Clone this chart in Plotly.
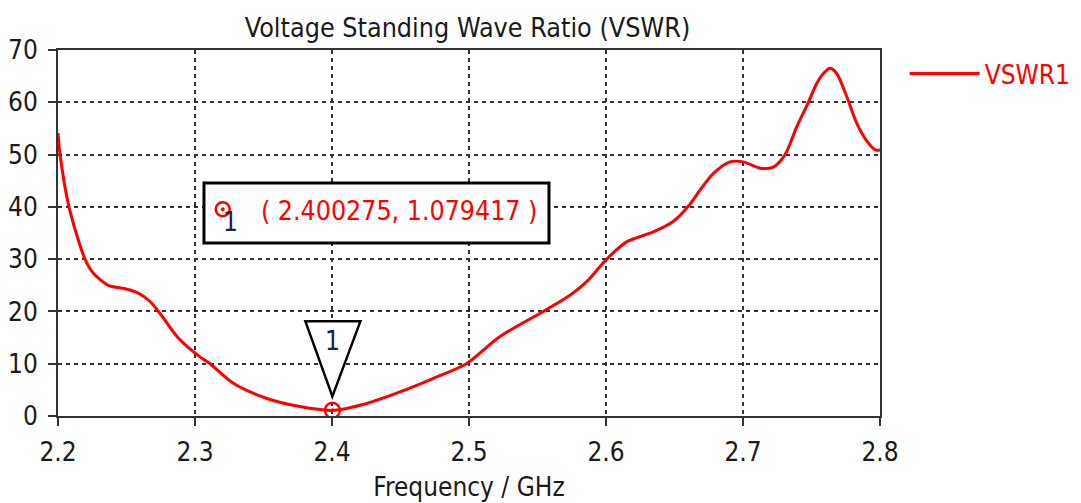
import plotly.graph_objects as go

# ---- data ----
freq_ghz = [2.200, 2.2015, 2.208, 2.2197, 2.2258, 2.2367, 2.2477, 2.2586, 2.2672, 2.2745,
            2.2878, 2.3036, 2.311, 2.328, 2.352, 2.3766, 2.400275, 2.4253, 2.4496, 2.474,
            2.498, 2.5226, 2.5542, 2.5737, 2.5859, 2.6005, 2.615, 2.6345, 2.649, 2.6613,
            2.6686, 2.6784, 2.6905, 2.7002, 2.7124, 2.722, 2.7307, 2.7392, 2.7477, 2.7538,
            2.7590, 2.7635, 2.7684, 2.7757, 2.783, 2.7903, 2.7965, 2.800]
vswr = [54.1, 50.0, 40.0, 30.0, 27.3, 25.0, 24.4, 23.5, 21.9, 19.6,
        14.9, 11.3, 10.0, 6.25, 3.4, 1.8, 1.079417, 2.4, 4.6, 7.2,
        10.0, 15.2, 20.0, 23.1, 25.7, 30.0, 33.3, 35.2, 37.2, 40.5,
        43.2, 46.4, 48.6, 48.6, 47.4, 47.6, 50.0, 55.3, 60.0, 63.6,
        65.6, 66.5, 65.5, 61.1, 56.0, 52.6, 50.9, 50.9]
marker_x = [2.400275]
marker_y = [1.079417]
marker_label = "( 2.400275, 1.079417 )"
x_ticks = [2.2, 2.3, 2.4, 2.5, 2.6, 2.7, 2.8]
y_ticks = [0, 10, 20, 30, 40, 50, 60, 70]

FONT = "DejaVu Sans Condensed, DejaVu Sans"
AX = "#333333"
TXT = "#1a1a1a"

fig = go.Figure()
fig.add_trace(go.Scatter(x=freq_ghz, y=vswr, mode="lines", name="VSWR1",
                         line=dict(color="#ff0000", width=3, shape="spline", smoothing=0.8)))
fig.add_trace(go.Scatter(x=marker_x, y=marker_y, mode="markers", showlegend=False,
                         marker=dict(symbol="circle-open-dot", size=15, color="#ff0000",
                                     line=dict(width=2.5, color="#ff0000"))))

axis_common = dict(showline=True, mirror=True, linecolor=AX, linewidth=2,
                   showgrid=True, gridcolor=AX, gridwidth=2, griddash="4px,4px",
                   ticks="outside", ticklen=8, tickwidth=2, tickcolor=AX,
                   zeroline=False, automargin=False,
                   tickfont=dict(family=FONT, size=26, color=TXT))

fig.update_layout(
    width=1081, height=503,
    margin=dict(l=58, r=201, t=50, b=87, autoexpand=False),
    paper_bgcolor="white", plot_bgcolor="white",
    title=dict(text="Voltage Standing Wave Ratio (VSWR)", x=0.4325, xanchor="center",
               y=0.946, yanchor="middle", yref="container",
               font=dict(family=FONT, size=26.7, color=TXT)),
    xaxis=dict(range=[2.2, 2.8], tickvals=x_ticks, ticktext=[f"{v:.1f}" for v in x_ticks],
               ticklabelstandoff=4,
               title=dict(text="Frequency / GHz", font=dict(family=FONT, size=26, color=TXT),
                          standoff=12),
               **axis_common),
    yaxis=dict(range=[0, 70], tickvals=y_ticks, ticklabelstandoff=5, **axis_common),
    legend=dict(x=1.03, y=1.0, xanchor="left", yanchor="top", itemwidth=70,
                font=dict(family=FONT, size=26, color="#ff0000"), bgcolor="rgba(0,0,0,0)"),
    showlegend=True,
)

# marker info box
fig.add_shape(type="rect", xref="paper", yref="paper", x0=0.1776, x1=0.5973, y0=0.4727, y1=0.6366,
              line=dict(color="black", width=3), fillcolor="white", layer="above")
fig.add_shape(type="circle", xref="paper", yref="paper", xsizemode="pixel", ysizemode="pixel",
              xanchor=0.2004, yanchor=0.5648, x0=-7, x1=7, y0=-7, y1=7,
              line=dict(color="#ff0000", width=2.5), layer="above")
fig.add_shape(type="circle", xref="paper", yref="paper", xsizemode="pixel", ysizemode="pixel",
              xanchor=0.2004, yanchor=0.5648, x0=-1.6, x1=1.6, y0=-1.6, y1=1.6,
              line=dict(color="#ff0000", width=1), fillcolor="#ff0000", layer="above")
fig.add_annotation(xref="paper", yref="paper", x=0.1985, y=0.5300, text="1", showarrow=False,
                   font=dict(family=FONT, size=26, color="#202040"))
fig.add_annotation(xref="paper", yref="paper", x=0.4148, y=0.5628, text=marker_label,
                   showarrow=False, font=dict(family=FONT, size=26.5, color="#ff0000"))

# triangle pointer above the marker
fig.add_shape(type="path", xref="x", yref="y", xsizemode="pixel", ysizemode="pixel",
              xanchor=marker_x[0], yanchor=marker_y[0],
              path="M 0 14 L -27 89 L 28 89 Z",
              line=dict(color="black", width=2.5), fillcolor="white", layer="above")
fig.add_annotation(x=marker_x[0], y=marker_y[0], yshift=69, text="1", showarrow=False,
                   font=dict(family=FONT, size=26, color="#202040"))

fig.write_html("out.html", config={"displayModeBar": False},
               post_script="document.body.style.margin='0';document.body.style.overflow='hidden';")
